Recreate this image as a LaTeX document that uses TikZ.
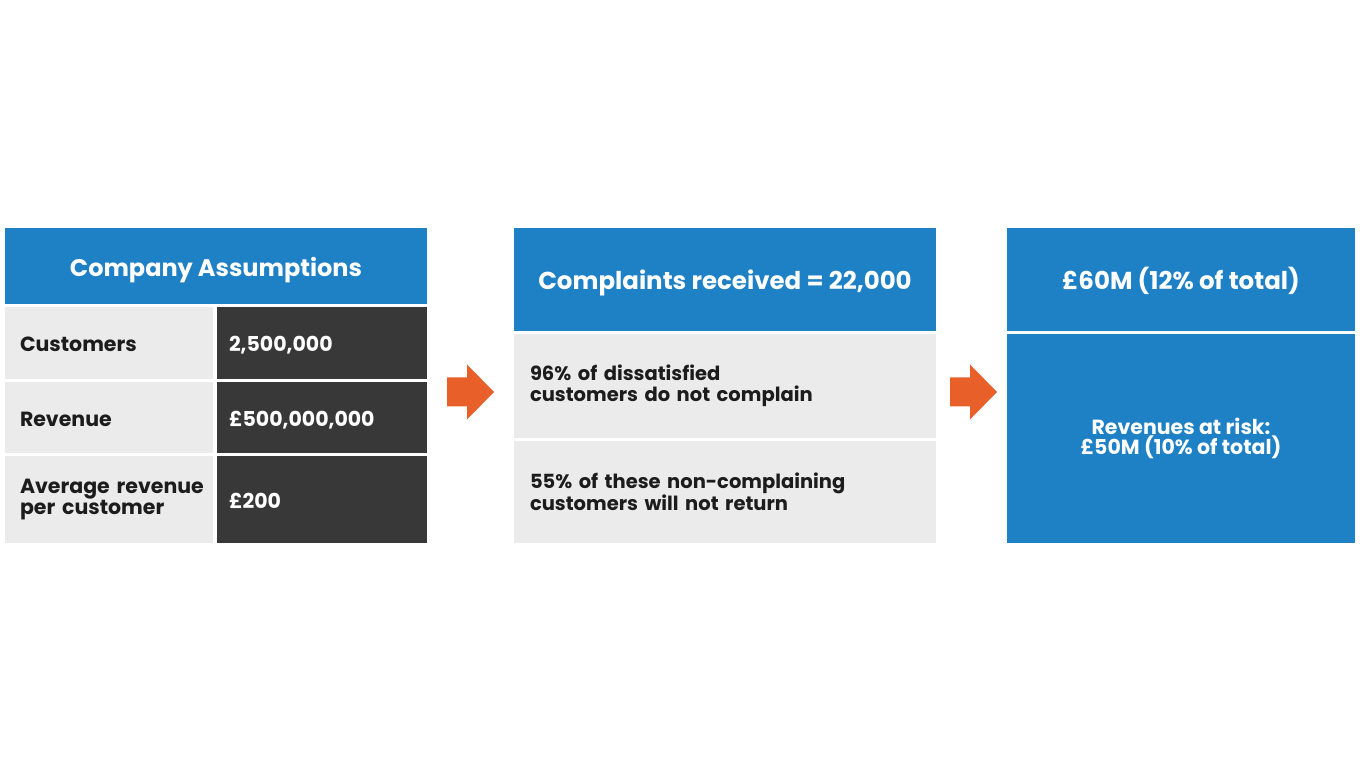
\documentclass[tikz,border=0pt]{standalone}
\usepackage{fontspec}
\setmainfont{Poppins}
\usetikzlibrary{positioning}
\definecolor{hdrblue}{HTML}{1E80C5}
\definecolor{cellgrey}{HTML}{EBEBEB}
\definecolor{celldark}{HTML}{383838}
\definecolor{inkdark}{HTML}{1C1C1C}
\definecolor{arroworange}{HTML}{E85F2A}

\begin{document}
\begin{tikzpicture}[x=1pt, y=1pt]
\tikzstyle{box}=[rectangle, inner sep=0pt, outer sep=0pt]
\tikzstyle{head}=[box, fill=hdrblue, text=white, align=center, text height=26pt, text depth=5pt, font=\bfseries\fontsize{24.5}{28}\selectfont]
\tikzstyle{keycell}=[box, fill=cellgrey, text=inkdark, inner xsep=15pt, text width=178pt, minimum width=208pt, align=left, font=\bfseries\fontsize{20.5}{21}\selectfont]
\tikzstyle{valcell}=[box, fill=celldark, text=white, inner xsep=12pt, text width=186pt, minimum width=210pt, align=left, text height=23pt, text depth=5pt, font=\bfseries\fontsize{20.5}{21}\selectfont]
\tikzstyle{textcell}=[box, fill=cellgrey, text=inkdark, inner xsep=16pt, text width=390pt, minimum width=422pt, align=left, font=\bfseries\fontsize{19.5}{20.5}\selectfont]
\tikzstyle{riskcell}=[box, fill=hdrblue, text=white, align=center, minimum width=348pt, font=\bfseries\fontsize{20.5}{20.5}\selectfont]
\tikzstyle{arrowfill}=[fill=arroworange]

\useasboundingbox (0,0) rectangle (1360,772);

  % company assumptions table
  \node[head, font=\bfseries\fontsize{24}{28}\selectfont, minimum width=422pt, minimum height=76pt, anchor=north west] (assume) at (5,544) {Company Assumptions};

  \node[keycell, text height=23pt, text depth=5pt, minimum height=72pt, below=3pt of assume.south west, anchor=north west] (cust) {Customers};
  \node[valcell, minimum height=72pt, right=4pt of cust] (custval) {2,500,000};
  \node[keycell, text height=23pt, text depth=5pt, minimum height=71pt, below=3pt of cust.south west, anchor=north west] (rev) {Revenue};
  \node[valcell, minimum height=71pt, right=4pt of rev] (revval) {£500,000,000};
  \node[keycell, minimum height=87pt, below=3pt of rev.south west, anchor=north west] (avg) {\mbox{Average revenue}\\per customer};
  \node[valcell, minimum height=87pt, right=4pt of avg] (avgval) {£200};

  % complaints
  \node[head, minimum width=422pt, minimum height=103pt, anchor=north west] (complaints) at (514,544) {Complaints received = 22,000};
  \node[textcell, minimum height=104pt, below=3pt of complaints.south west, anchor=north west] (silent) {96\% of dissatisfied\\customers do not complain};
  \node[textcell, minimum height=102pt, below=3pt of silent.south west, anchor=north west] (lost) {55\% of these non-complaining\\customers will not return};

  % revenue at risk
  \node[head, minimum width=348pt, minimum height=103pt, anchor=north west] (total) at (1007,544) {£60M (12\% of total)};
  \node[riskcell, minimum height=209pt, below=3pt of total.south west, anchor=north west] (risk) {Revenues at risk:\\£50M (10\% of total)};

  % orange arrows
  \foreach \ax in {447,950}
    \fill[arrowfill] (\ax,394.5) -- ({\ax+20},394.5) -- ({\ax+20},407.5) -- ({\ax+47},380)
      -- ({\ax+20},352.5) -- ({\ax+20},365.5) -- (\ax,365.5) -- cycle;

\end{tikzpicture}
\end{document}
